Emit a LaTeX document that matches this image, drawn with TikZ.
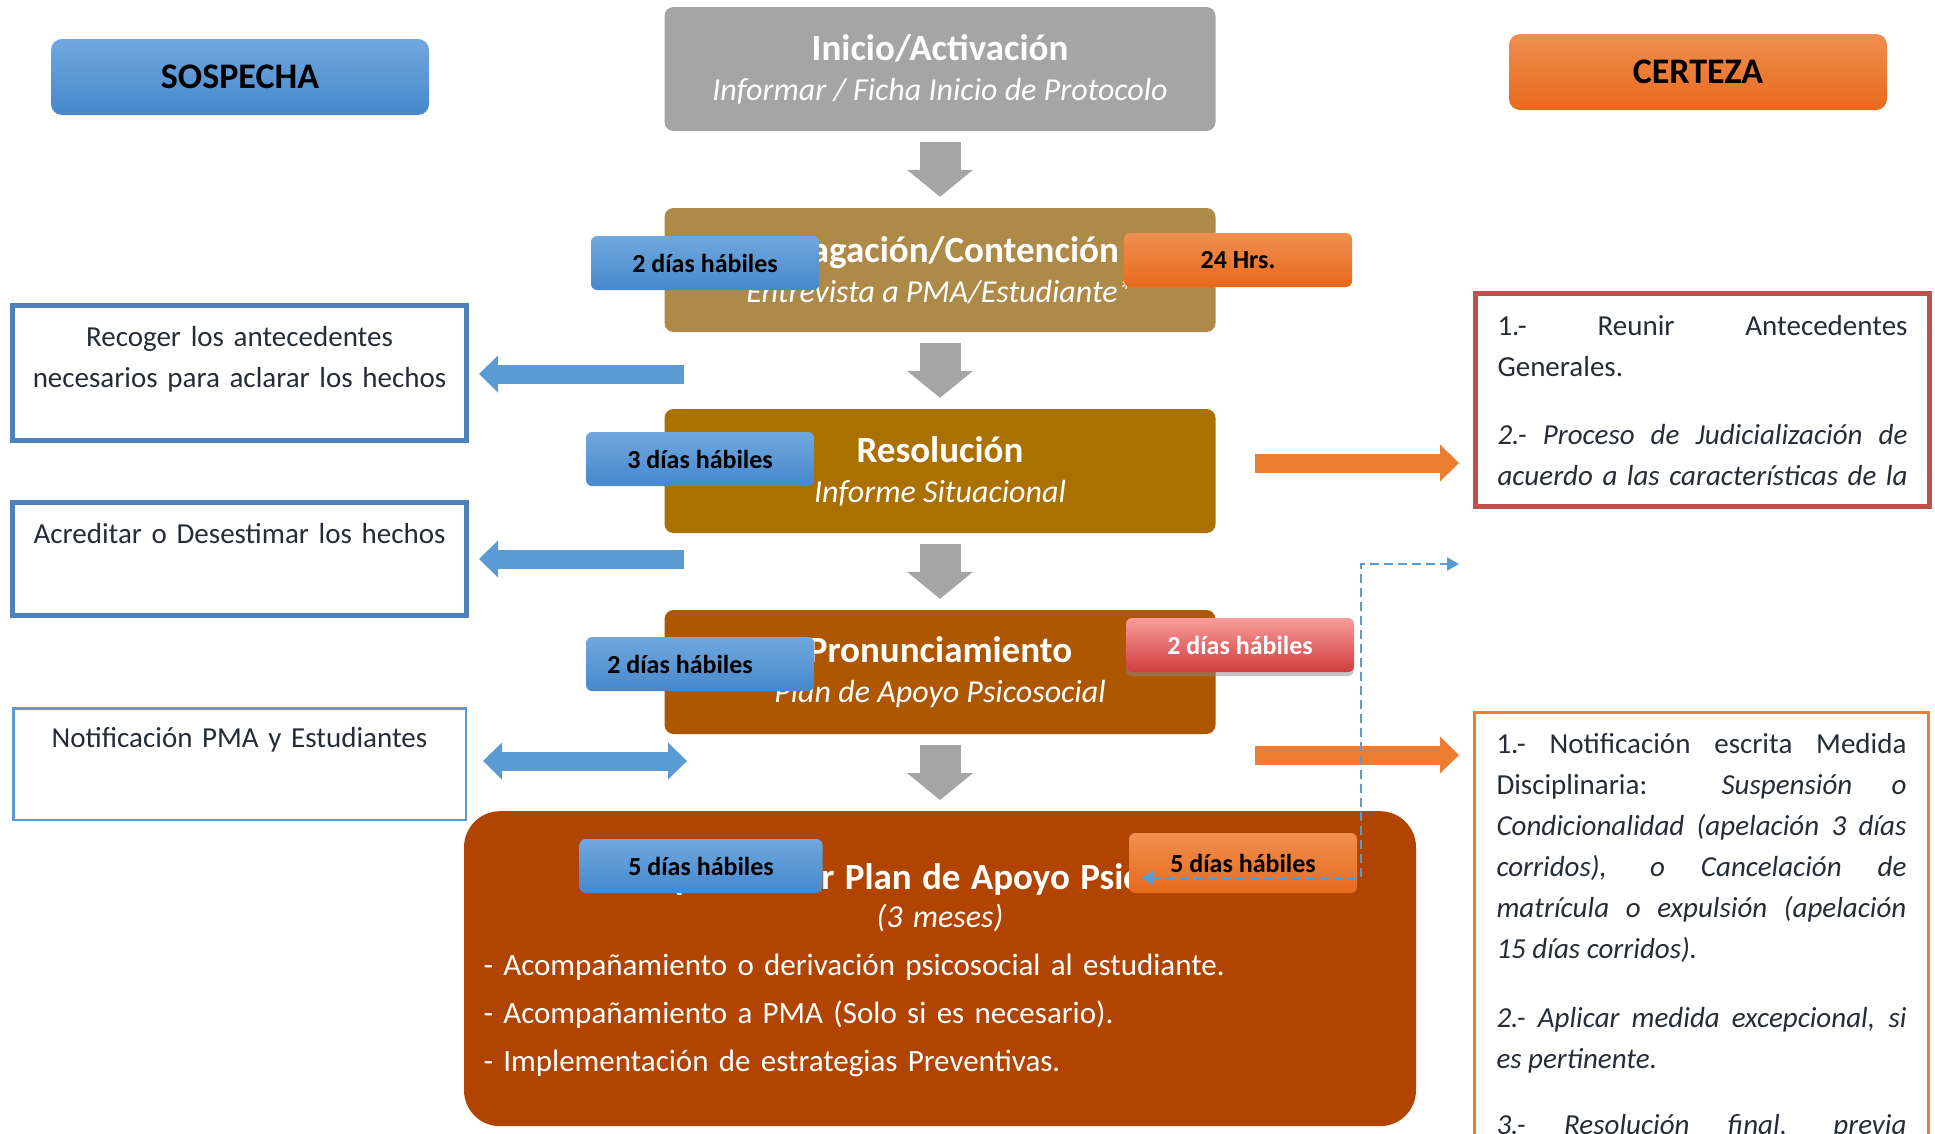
\documentclass[tikz,border=0pt]{standalone}
\usepackage{fontspec}
\setmainfont{Carlito}
\usetikzlibrary{arrows.meta,positioning,shadows}

\definecolor{gris}{HTML}{A5A5A5}
\definecolor{oro}{HTML}{AD8A48}
\definecolor{ocre}{HTML}{AA7000}
\definecolor{cobre}{HTML}{AD5700}
\definecolor{teja}{HTML}{B04400}
\definecolor{azul}{HTML}{5B9BD5}
\definecolor{azulborde}{HTML}{4F81BD}
\definecolor{azulclaro}{HTML}{70A8DE}
\definecolor{azuloscuro}{HTML}{4688CC}
\definecolor{naranja}{HTML}{ED7D31}
\definecolor{naranjaclaro}{HTML}{F08F50}
\definecolor{naranjaoscuro}{HTML}{E8691C}
\definecolor{rojo}{HTML}{C0504D}
\definecolor{rojoclaro}{HTML}{F99C9C}
\definecolor{rojooscuro}{HTML}{D03C3E}
\definecolor{texto}{HTML}{262C36}

\begin{document}
\begin{tikzpicture}[x=1pt,y=-1pt,>=Stealth,node distance=201pt,
    main node/.style={rectangle,rounded corners=9pt,minimum width=551pt,minimum height=124pt,inner sep=0pt,align=center,text=white,font=\fontsize{32}{40}\selectfont},
    plan node/.style={rectangle,rounded corners=36pt,fill=teja,text=white,inner xsep=19.5pt,inner ysep=0pt,text width=913pt,align=left,text height=78pt,text depth=237pt,font=\fontsize{31}{48}\selectfont},
    head node/.style={rectangle,rounded corners=11pt,minimum width=378pt,minimum height=76pt,font=\fontsize{36}{40}\selectfont\bfseries},
    badge node/.style={rectangle,rounded corners=6pt,minimum width=228pt,minimum height=54pt,inner sep=0pt,font=\fontsize{26}{30}\selectfont\bfseries},
    blue badge/.style={badge node,top color=azulclaro,bottom color=azuloscuro},
    orange badge/.style={badge node,top color=naranjaclaro,bottom color=naranjaoscuro},
    red badge/.style={badge node,top color=rojoclaro,bottom color=rojooscuro,text=white,drop shadow={shadow xshift=0pt,shadow yshift=-4pt,fill=black!45}},
    side node/.style={rectangle,draw,inner sep=0pt,align=center,anchor=north,text=texto,font=\fontsize{29}{41}\selectfont},
    note node/.style={rectangle,draw,inner xsep=22pt,inner ysep=0pt,text width=410pt,align=justify,anchor=north west,text=texto,font=\fontsize{29}{41}\selectfont},
    gray arrow/.style={draw=gris,line width=41pt,-{Triangle[width=66pt,length=27pt,line width=0pt]},shorten <=11pt,shorten >=11pt},
    blue arrow/.style={draw=azul,line width=19pt,-{Triangle[width=37pt,length=19pt,line width=0pt]}},
    both arrow/.style={draw=azul,line width=19pt,{Triangle[width=37pt,length=19pt,line width=0pt]}-{Triangle[width=37pt,length=19pt,line width=0pt]}},
    orange arrow/.style={draw=naranja,line width=19pt,-{Triangle[width=37pt,length=19pt,line width=0pt]}},
    dash arrow/.style={draw=azul,line width=2.5pt,dash pattern=on 9pt off 5pt,{Triangle[width=13pt,length=12pt]}-{Triangle[width=13pt,length=12pt]}}]

    \useasboundingbox (0,0) rectangle (1935,1133);

    \node[head node,top color=azulclaro,bottom color=azuloscuro] (0a) at (240,77) {SOSPECHA};
    \node[head node,top color=naranjaclaro,bottom color=naranjaoscuro] (0b) at (1698,72) {CERTEZA};

    \node[main node,fill=gris] (1) at (940,69) {{\fontsize{37}{40}\selectfont\bfseries Inicio/Activación}\\{\itshape Informar / Ficha Inicio de Protocolo}};
    \node[main node,fill=oro] (2) [below of = 1] {{\fontsize{37}{40}\selectfont\bfseries Indagación/Contención}\\{\itshape Entrevista a PMA/Estudiante*}};
    \node[main node,fill=ocre] (3) [below of = 2] {{\fontsize{37}{40}\selectfont\bfseries Resolución}\\{\itshape Informe Situacional}};
    \node[main node,fill=cobre] (4) [below of = 3] {{\fontsize{37}{40}\selectfont\bfseries Pronunciamiento}\\{\itshape Plan de Apoyo Psicosocial}};
    \node[plan node,anchor=north] (5) at (940,811) {{\centering\fontsize{37}{38}\selectfont\bfseries Implementar Plan de Apoyo Psicosocial\\
        {\mdseries\itshape\fontsize{32}{38}\selectfont (3 meses)}\par}
        - Acompañamiento o derivación psicosocial al estudiante.\\
        - Acompañamiento a PMA (Solo si es necesario).\\
        - Implementación de estrategias Preventivas.};

    \node[blue badge] (2l) at (705,263) {2 días hábiles};
    \node[orange badge] (2r) at (1238,260) {24 Hrs.};
    \node[blue badge] (3l) at (700,459) {3 días hábiles};
    \node[blue badge] (4l) at (700,664) {2 días hábiles\hspace*{40pt}};
    \node[red badge] (4r) at (1240,645) {2 días hábiles};
    \node[blue badge,minimum width=243pt] (5l) at (701,866) {5 días hábiles};
    \node[orange badge,minimum height=60pt] (5r) at (1243,863) {5 días hábiles};

    \node[side node,draw=azulborde,line width=5pt,text width=454pt,text height=40.5pt,text depth=94.5pt] (1a) at (239.5,303) {Recoger los antecedentes\\necesarios para aclarar los hechos};
    \node[side node,draw=azulborde,line width=5pt,text width=454pt,text height=40.5pt,text depth=72.5pt] (2a) at (239.5,500) {Acreditar o Desestimar los hechos};
    \node[side node,draw=azul,line width=2.5pt,text width=452.5pt,text height=38.75pt,text depth=72.75pt] (3a) at (239.5,707) {Notificación PMA y Estudiantes};

    \node[note node,draw=rojo,line width=5pt,text height=41.5pt,text depth=171.5pt] (1b) at (1473,291) {\makebox[\linewidth][s]{1.- Reunir Antecedentes}\\
        Generales.\\[27pt]
        \itshape\makebox[\linewidth][s]{2.- Proceso de Judicialización de}\\
        \makebox[\linewidth][s]{acuerdo a las características de la}};
    \node[note node,draw=naranja,line width=3pt,text height=40.5pt,text depth=420pt] (2b) at (1473,711) {\makebox[\linewidth][s]{1.- Notificación escrita Medida}\\
        \makebox[\linewidth][s]{Disciplinaria: \textit{Suspensión o}}\\
        \itshape\makebox[\linewidth][s]{Condicionalidad (apelación 3 días}\\
        \makebox[\linewidth][s]{corridos), o Cancelación de}\\
        \makebox[\linewidth][s]{matrícula o expulsión (apelación}\\
        15 días corridos).\\[28pt]
        \makebox[\linewidth][s]{2.- Aplicar medida excepcional, si}\\
        es pertinente.\\[25pt]
        \makebox[\linewidth][s]{3.- Resolución final, previa}};

    \coordinate (c1) at (684,374);
    \coordinate (c2) at (684,559);
    \coordinate (c3) at (687,761);
    \coordinate (c4) at (1255,463);
    \coordinate (c5) at (1255,755);
    \coordinate (d1) at (1141,878);
    \coordinate (d2) at (1361,564);
    \coordinate (d3) at (1459,564);

    \path (1) edge[gray arrow] (2)
          (2) edge[gray arrow] (3)
          (3) edge[gray arrow] (4)
          (4) edge[gray arrow] (5)
          (c1) edge[blue arrow,shorten >=10pt] (c1 -| 1a.east)
          (c2) edge[blue arrow,shorten >=10pt] (c2 -| 2a.east)
          (c3) edge[both arrow,shorten >=16pt] (c3 -| 3a.east)
          (c4) edge[orange arrow,shorten >=14pt] (c4 -| 1b.west)
          (c5) edge[orange arrow,shorten >=14pt] (c5 -| 2b.west);
    \draw[dash arrow] (d1) -| (d2) -- (d3);
\end{tikzpicture}
\end{document}
